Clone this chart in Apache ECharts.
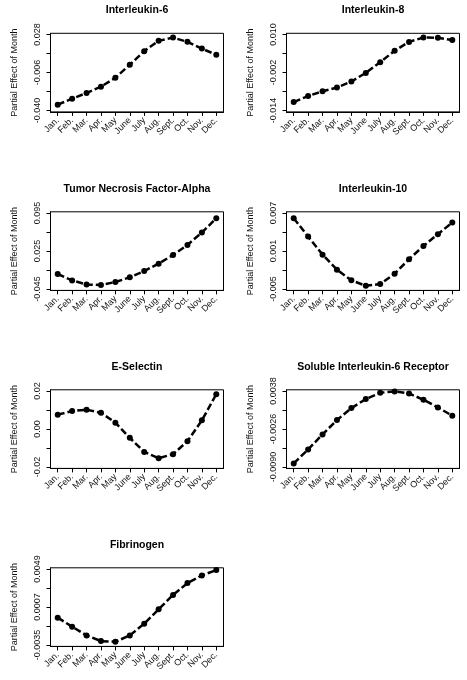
<!DOCTYPE html>
<html lang="en">
<head>
    <meta charset="utf-8">
    <title>Partial Effect of Month</title>
    <script type="text/javascript" src="https://cdn.jsdelivr.net/npm/echarts@6/dist/echarts.min.js"></script>
    <style>
        html, body { margin: 0; padding: 0; background: #fff; }
        #chart { width: 467px; height: 680px; }
    </style>
</head>
<body>
<div id="chart"></div>
<script type="text/javascript">
    // months on the x axis
    var months = ['Jan.', 'Feb.', 'Mar.', 'Apr.', 'May', 'June', 'July', 'Aug.', 'Sept.', 'Oct.', 'Nov.', 'Dec.'];

    // partial effect of month
    var il6 = [-0.0347, -0.0293, -0.0243, -0.0186, -0.0106, 0.0010, 0.0132, 0.0224, 0.0253, 0.0215, 0.0155, 0.0099];
    var il8 = [-0.0113, -0.0094, -0.0079, -0.0067, -0.0048, -0.0021, 0.0013, 0.0049, 0.0077, 0.0091, 0.0090, 0.0083];
    var tnf = [-0.0172, -0.0290, -0.0364, -0.0376, -0.0320, -0.0234, -0.0117, 0.0019, 0.0179, 0.0364, 0.0592, 0.0857];
    var il10 = [0.0062, 0.0033, 0.00044, -0.00193, -0.00362, -0.00447, -0.00421, -0.00257, -0.00029, 0.00182, 0.00367, 0.00552];
    var esel = [0.0076, 0.0095, 0.0102, 0.0086, 0.0034, -0.0046, -0.0120, -0.0153, -0.0132, -0.0064, 0.0046, 0.0184];
    var sil6r = [-0.00838, -0.00602, -0.00350, -0.00108, 0.00094, 0.00245, 0.00352, 0.00374, 0.00341, 0.00234, 0.00105, -0.00035];
    var fib = [-0.00047, -0.00146, -0.00243, -0.00306, -0.00313, -0.00243, -0.00113, 0.00046, 0.00205, 0.00335, 0.00420, 0.00479];

    // y ticks (only every other one gets a label)
    var il6Ticks = [-0.040, -0.023, -0.006, 0.011, 0.028];
    var il8Ticks = [-0.014, -0.008, -0.002, 0.004, 0.010];
    var tnfTicks = [-0.045, -0.010, 0.025, 0.060, 0.095];
    var il10Ticks = [-0.005, -0.002, 0.001, 0.004, 0.007];
    var eselTicks = [-0.02, -0.01, 0.00, 0.01, 0.02];
    var sil6rTicks = [-0.0090, -0.0058, -0.0026, 0.0006, 0.0038];
    var fibTicks = [-0.0035, -0.0014, 0.0007, 0.0028, 0.0049];

    var titles = ['Interleukin-6', 'Interleukin-8', 'Tumor Necrosis Factor-Alpha', 'Interleukin-10',
        'E-Selectin', 'Soluble Interleukin-6 Receptor', 'Fibrinogen'];
    var values = [il6, il8, tnf, il10, esel, sil6r, fib];
    var ticks = [il6Ticks, il8Ticks, tnfTicks, il10Ticks, eselTicks, sil6rTicks, fibTicks];
    var decimals = [3, 3, 3, 3, 2, 4, 4];

    var font = 'Liberation Sans, Arial, Helvetica, sans-serif';
    var colLeft = [50.5, 286.5];
    var rowTop = [33.3, 211.8, 389.8, 567.8];   // box top, a little above the top tick
    var boxW = 173, boxH = 78.6;
    var padFrac = 1.3 / 76;                      // box margin beyond first/last tick

    var grids = [], xAxes = [], yAxes = [], series = [], graphics = [];

    for (var i = 0; i < values.length; i++) {
        var gx = colLeft[i % 2], gy = rowTop[Math.floor(i / 2)];
        var t = ticks[i];
        var pad = (t[t.length - 1] - t[0]) * padFrac;

        grids.push({
            left: gx, top: gy, width: boxW, height: boxH,
            show: true, borderColor: '#000', borderWidth: 1
        });

        xAxes.push({
            type: 'category', gridIndex: i, data: months, boundaryGap: true,
            axisLine: {show: true, onZero: false, lineStyle: {color: '#000', width: 1}},
            axisTick: {show: true, alignWithLabel: true, interval: 0, length: 4, lineStyle: {color: '#000'}},
            axisLabel: {
                interval: 0, rotate: 45, margin: 7,
                fontFamily: font, fontSize: 9, color: '#111'
            }
        });

        yAxes.push({
            type: 'value', gridIndex: i,
            min: t[0] - pad, max: t[t.length - 1] + pad,
            splitLine: {show: false},
            axisLine: {show: true, onZero: false, lineStyle: {color: '#000', width: 1}},
            axisTick: {show: true, length: 4, lineStyle: {color: '#000'}, customValues: t},
            axisLabel: {
                rotate: 90, margin: 8, fontFamily: font, fontSize: 9, color: '#111',
                customValues: [t[0], t[2], t[4]],
                formatter: (function (d) {
                    return function (v) { return Number(v).toFixed(d); };
                })(decimals[i])
            },
            name: 'Partial Effect of Month', nameLocation: 'middle', nameGap: 31, nameRotate: 90,
            nameTextStyle: {fontFamily: font, fontSize: 9, color: '#111'}
        });

        series.push({
            type: 'line', xAxisIndex: i, yAxisIndex: i, data: values[i],
            symbol: 'circle', symbolSize: 6,
            itemStyle: {color: '#000'},
            lineStyle: {color: '#000', width: 2.5, type: [7, 3]}
        });

        graphics.push({
            type: 'text', x: gx + boxW / 2, y: gy - 22.7,
            style: {
                text: titles[i], font: 'bold 10.5px ' + font,
                fill: '#000', textAlign: 'center', textVerticalAlign: 'middle'
            }
        });
    }

    var chart = echarts.init(document.getElementById('chart'));
    chart.setOption({
        backgroundColor: '#fff',
        animation: false,
        grid: grids,
        xAxis: xAxes,
        yAxis: yAxes,
        series: series,
        graphic: graphics
    });
</script>
</body>
</html>
